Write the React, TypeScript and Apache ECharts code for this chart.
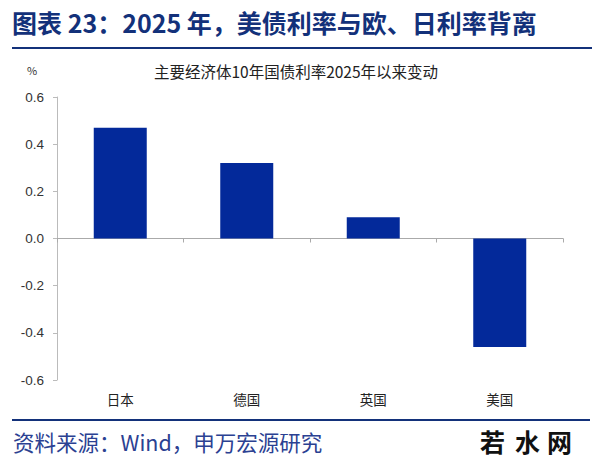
import React, { useEffect, useRef } from "react";
import * as echarts from "echarts";

const categories = ["日本", "德国", "英国", "美国"];
const values = [0.47, 0.32, 0.09, -0.46];
const yTicks = { min: -0.6, max: 0.6, interval: 0.2 };

export default function App() {
  const ref = useRef<HTMLDivElement>(null);
  useEffect(() => {
    document.body.style.margin = "0";
    const chart = echarts.init(ref.current!, null, { renderer: "svg" });
    const font = "'Noto Sans CJK SC', 'Noto Sans', sans-serif";
    const wm = (ch: string, x: number) => ({
      type: "text",
      left: x,
      top: 428,
      style: { text: ch, fontSize: 25, fontWeight: "bold", fill: "#111", fontFamily: font },
    });
    chart.setOption({
      animation: false,
      backgroundColor: "#ffffff",
      textStyle: { fontFamily: font },
      title: {
        text: "主要经济体10年国债利率2025年以来变动",
        left: 296,
        top: 63,
        padding: 0,
        textAlign: "center",
        textStyle: { fontSize: 15.5, fontWeight: "normal", color: "#222", fontFamily: font },
      },
      grid: { left: 57, right: 37, top: 97, bottom: 88, outerBoundsMode: "none", containLabel: false },
      xAxis: {
        type: "category",
        data: categories,
        axisLine: { onZero: true, lineStyle: { color: "#aaa" } },
        axisTick: { show: true, length: 4, lineStyle: { color: "#aaa" } },
        axisLabel: {
          interval: 0,
          color: "#222",
          fontSize: 13.5,
          fontFamily: font,
          margin: 12,
        },
      },
      yAxis: {
        type: "value",
        min: yTicks.min,
        max: yTicks.max,
        interval: yTicks.interval,
        axisLine: { show: true, lineStyle: { color: "#bbb" } },
        axisTick: { show: true, length: 4, lineStyle: { color: "#bbb" } },
        splitLine: { show: false },
        axisLabel: {
          color: "#333",
          fontSize: 13.5,
          fontFamily: "'Liberation Sans', Arial, sans-serif",
          formatter: (v: number) => v.toFixed(1),
          margin: 13,
        },
      },
      series: [
        {
          type: "bar",
          data: values,
          barWidth: 53,
          itemStyle: { color: "#03299a" },
        },
      ],
      graphic: [
        {
          type: "text",
          left: 12,
          top: 9,
          style: {
            text: "图表 23：2025 年，美债利率与欧、日利率背离",
            fontSize: 25,
            fontWeight: "bold",
            fill: "#13317a",
            fontFamily: font,
          },
        },
        {
          type: "line",
          shape: { x1: 12, y1: 48, x2: 592, y2: 48 },
          style: { stroke: "#13317a", lineWidth: 2 },
        },
        {
          type: "text",
          left: 27,
          top: 64,
          style: { text: "%", fontSize: 11, fill: "#333", fontFamily: font },
        },
        {
          type: "line",
          shape: { x1: 12, y1: 420, x2: 590, y2: 420 },
          style: { stroke: "#13317a", lineWidth: 2 },
        },
        {
          type: "text",
          left: 13,
          top: 431,
          style: {
            text: "资料来源：Wind，申万宏源研究",
            fontSize: 21.5,
            fill: "#2b4192",
            fontFamily: font,
          },
        },
        wm("若", 480),
        wm("水", 515),
        wm("网", 547),
      ],
    });
    return () => chart.dispose();
  }, []);
  return <div ref={ref} style={{ width: 600, height: 468 }} />;
}
